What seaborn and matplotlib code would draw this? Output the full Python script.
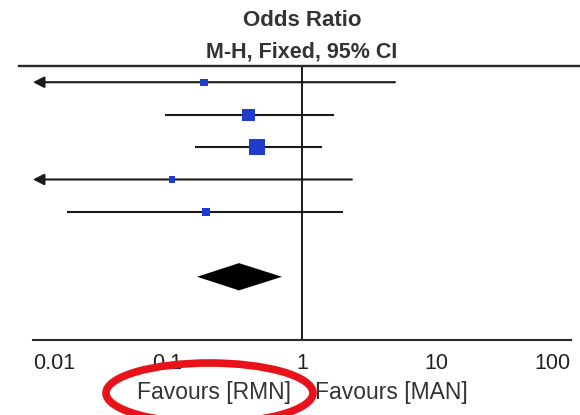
import numpy as np
import pandas as pd
import matplotlib
matplotlib.use("Agg")
import matplotlib.pyplot as plt
from matplotlib.patches import Ellipse
import seaborn as sns

# ---- data ----
study_rows = [0, 1, 2, 3, 4]
odds_ratio = [0.187, 0.40, 0.46, 0.108, 0.193]
ci_lower = [0.004, 0.096, 0.16, 0.003, 0.018]
ci_upper = [4.91, 1.73, 1.41, 2.35, 2.02]
weights = [9.7, 26.6, 45.9, 8.0, 9.8]
pooled_row = 6
pooled_or = 0.34
pooled_lower = 0.166
pooled_upper = 0.71
tick_values = [0.01, 0.1, 1, 10, 100]
tick_labels = ["0.01", "0.1", "1", "10", "100"]
title_lines = ["Odds Ratio", "M-H, Fixed, 95% CI"]
favours_left = "Favours [RMN]"
favours_right = "Favours [MAN]"

sns.set_theme(style="white")
plt.rcParams["font.family"] = ["Liberation Sans", "DejaVu Sans"]

W, H = 580, 415
fig = plt.figure(figsize=(W / 100, H / 100), dpi=100)
fig.patch.set_facecolor("white")
ax = fig.add_axes([19 / W, 1 - 340 / H, 1 - 19 / W, (340 - 66) / H])
ax.set_facecolor("white")

xmin, xmax = 10 ** (-2.104), 10 ** (2.067)
ax.set_xscale("log")
ax.set_xlim(xmin, xmax)
ax.set_ylim(7.95, -0.5)

line_col = "#1a1a1a"
blue = "#1f3ccc"

# CI lines (with arrows where the CI runs beyond the axis)
for r, lo, hi in zip(study_rows, ci_lower, ci_upper):
    if lo < tick_values[0]:
        ax.annotate("", xy=(tick_values[0], r), xytext=(hi, r),
                    arrowprops=dict(arrowstyle="-|>,head_length=0.55,head_width=0.28",
                                    color=line_col, lw=1.5, shrinkA=0, shrinkB=0),
                    zorder=2)
    else:
        ax.hlines(r, lo, hi, color=line_col, lw=1.5, zorder=2)

# squares sized by weight (area proportional to weight)
df = pd.DataFrame({"or": odds_ratio, "row": study_rows, "w": weights})
k = (2.36 * 0.72) ** 2
wmin, wmax = min(weights), max(weights)
sns.scatterplot(data=df, x="or", y="row", size="w", sizes=(k * wmin, k * wmax),
                size_norm=(wmin, wmax), marker="s", color=blue, linewidth=0,
                legend=False, ax=ax, zorder=3)

# pooled diamond
h = 0.42
ax.fill([pooled_lower, pooled_or, pooled_upper, pooled_or],
        [pooled_row, pooled_row - h, pooled_row, pooled_row + h],
        color="black", lw=0, zorder=3)

# line of no effect
ax.axvline(1, color=line_col, lw=1.4, zorder=1)

# spines
for s in ["left", "right"]:
    ax.spines[s].set_visible(False)
ax.spines["top"].set_visible(True)
ax.spines["top"].set_color("#2a2a2a")
ax.spines["top"].set_linewidth(1.7)
ax.spines["bottom"].set_color("#2a2a2a")
ax.spines["bottom"].set_linewidth(1.5)
ax.spines["bottom"].set_bounds(tick_values[0], tick_values[-1])

ax.set_yticks([])
ax.set_xticks(tick_values)
ax.set_xticklabels(tick_labels)
ax.xaxis.set_minor_locator(matplotlib.ticker.NullLocator())
ax.tick_params(axis="x", direction="inout", length=11, width=1.5, color="#2a2a2a",
               pad=4, labelsize=15.5, labelcolor="#222222")
labs = ax.get_xticklabels()
labs[0].set_ha("left")
labs[-1].set_ha("right")
ax.set_xlabel("")
ax.set_ylabel("")

# titles
fig.text(302 / W, 1 - 20 / H, title_lines[0], ha="center", va="center",
         fontsize=16, fontweight="bold", color="#333333")
fig.text(302 / W, 1 - 52 / H, title_lines[1], ha="center", va="center",
         fontsize=15.5, fontweight="bold", color="#333333")

# favours labels
fig.text(291 / W, 1 - 392 / H, favours_left, ha="right", va="center",
         fontsize=16.5, color="#333333")
fig.text(315 / W, 1 - 392 / H, favours_right, ha="left", va="center",
         fontsize=16.5, color="#333333")

# red highlight ellipse
fig.add_artist(Ellipse((209.5 / W, 1 - 393 / H), width=207 / W, height=60 / H,
                       transform=fig.transFigure, fill=False,
                       edgecolor="#e8121a", lw=5.5, zorder=10))

fig.savefig("out.png", dpi=100, facecolor="white")
